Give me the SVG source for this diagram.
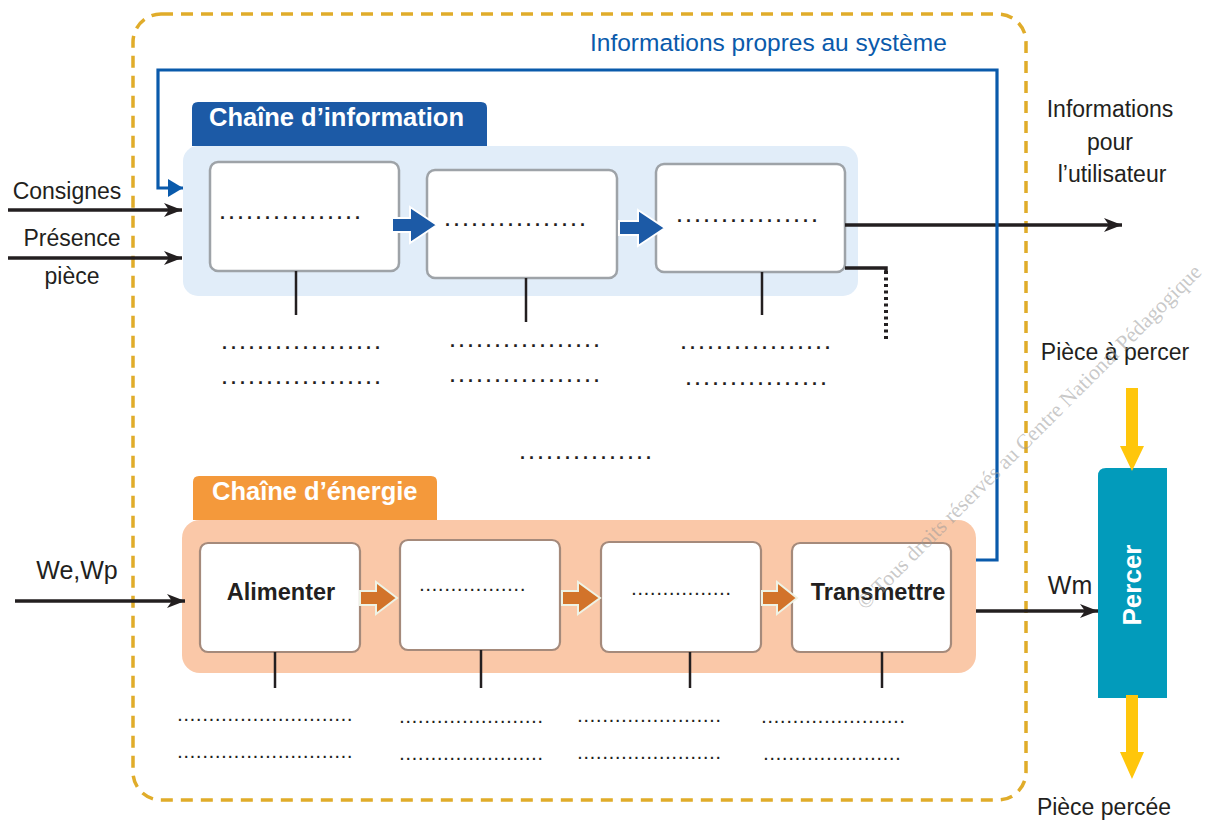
<svg xmlns="http://www.w3.org/2000/svg" width="1215" height="821" viewBox="0 0 1215 821">
  <style>
    .lbl { font-family: "Liberation Sans", Arial, sans-serif; font-size: 23px; fill: #231F20; }
    .big { font-size: 25px; }
    .tab { font-family: "Liberation Sans", Arial, sans-serif; font-size: 25.5px; font-weight: bold; fill: #FFFFFF; }
    .fn { font-family: "Liberation Sans", Arial, sans-serif; font-size: 23.5px; font-weight: bold; fill: #231F20; }
    .dots { font-family: "Liberation Sans", Arial, sans-serif; font-size: 18px; font-weight: bold; letter-spacing: 4px; fill: #231F20; }
    .dots-s { font-family: "Liberation Sans", Arial, sans-serif; font-size: 14px; font-weight: bold; letter-spacing: 2.4px; fill: #231F20; }
    .ibox { fill: #FFFFFF; stroke: #9EA3A8; stroke-width: 2.5; }
    .ebox { fill: #FFFFFF; stroke: #A58A7B; stroke-width: 2.2; }
    .wire { fill: none; stroke: #231F20; stroke-width: 3.5; }
    .tick { fill: none; stroke: #231F20; stroke-width: 2.5; }
    .barrow { fill: #1C5AA6; stroke: #FFFFFF; stroke-width: 2; }
    .oarrow { fill: #D2732A; stroke: #EEF3E6; stroke-width: 2; }
    .yarrow { fill: #FFC60B; }
  </style>
  <defs>
    <marker id="head" markerUnits="userSpaceOnUse" markerWidth="20" markerHeight="16" refX="18" refY="7" orient="auto">
      <path d="M0,0 L18,7 L0,14 L5,7 Z" fill="#231F20"/>
    </marker>
    <marker id="headBlue" markerUnits="userSpaceOnUse" markerWidth="16" markerHeight="20" refX="15" refY="9" orient="auto">
      <path d="M0,0 L15,9 L0,18 Z" fill="#0A5AAB"/>
    </marker>
  </defs>

  <rect width="1215" height="821" fill="#FFFFFF"/>

  <!-- system boundary -->
  <g id="system-boundary">
    <rect x="133" y="14" width="893" height="786" rx="28" ry="28" fill="none" stroke="#E0AC2A" stroke-width="3.5" stroke-dasharray="12 8"/>
    <text x="590" y="51" style="font-family: 'Liberation Sans', Arial, sans-serif; font-size: 24.5px; fill: #0A5AAB;">Informations propres au système</text>
  </g>

  <!-- information chain -->
  <g id="info-chain">
    <rect x="183" y="146" width="675" height="150" rx="15" ry="15" fill="#E1EDF9"/>
    <path d="M192,146 V108 Q192,102 198,102 H481 Q487,102 487,108 V146 Z" fill="#1C5AA6"/>
    <text class="tab" x="209" y="126">Chaîne d’information</text>
  </g>
  <g id="info-1">
    <rect class="ibox" x="210" y="162" width="189" height="109" rx="8" ry="8"/>
    <text class="dots" x="220" y="219">................</text>
  </g>
  <g id="info-2">
    <rect class="ibox" x="427" y="170" width="190" height="108" rx="8" ry="8"/>
    <text class="dots" x="445" y="226">................</text>
  </g>
  <g id="info-3">
    <rect class="ibox" x="656" y="164" width="189" height="108" rx="8" ry="8"/>
    <text class="dots" x="677" y="222">................</text>
  </g>

  <!-- energy chain -->
  <g id="energy-chain">
    <rect x="182" y="520" width="794" height="153" rx="18" ry="18" fill="#FAC8A8"/>
    <path d="M193,520 V482 Q193,476 199,476 H431 Q437,476 437,482 V520 Z" fill="#F4993B"/>
    <text class="tab" x="212" y="500">Chaîne d’énergie</text>
  </g>
  <g id="energy-1">
    <rect class="ebox" x="200" y="543" width="160" height="109" rx="8" ry="8"/>
    <text class="fn" x="281" y="600" text-anchor="middle">Alimenter</text>
  </g>
  <g id="energy-2">
    <rect class="ebox" x="400" y="540" width="160" height="110" rx="8" ry="8"/>
    <text class="dots-s" x="420" y="591">.................</text>
  </g>
  <g id="energy-3">
    <rect class="ebox" x="601" y="542" width="160" height="110" rx="8" ry="8"/>
    <text class="dots-s" x="632" y="595">................</text>
  </g>
  <g id="energy-4">
    <rect class="ebox" x="792" y="543" width="159" height="109" rx="8" ry="8"/>
    <text class="fn" x="878" y="600" text-anchor="middle">Transmettre</text>
  </g>

  <!-- operative part -->
  <g id="percer">
    <path d="M1106,468 H1167 V698 H1098 V476 Q1098,468 1106,468 Z" fill="#029BBB"/>
    <text class="tab" x="1132" y="585" text-anchor="middle" transform="rotate(-90 1132 585)" dy="9" style="font-size:26px">Percer</text>
  </g>

  <!-- external labels -->
  <g id="labels">
    <text class="lbl" x="67" y="199" text-anchor="middle">Consignes</text>
    <text class="lbl" x="72" y="246" text-anchor="middle">Présence</text>
    <text class="lbl" x="72" y="284" text-anchor="middle">pièce</text>
    <text class="lbl big" x="77" y="579" text-anchor="middle">We,Wp</text>
    <text class="lbl big" x="1070" y="594" text-anchor="middle">Wm</text>
    <text class="lbl" x="1110" y="117" text-anchor="middle">Informations</text>
    <text class="lbl" x="1110" y="150" text-anchor="middle">pour</text>
    <text class="lbl" x="1112" y="182" text-anchor="middle">l’utilisateur</text>
    <text class="lbl" x="1115" y="360" text-anchor="middle">Pièce à percer</text>
    <text class="lbl" x="1104" y="815" text-anchor="middle">Pièce percée</text>
  </g>

  <!-- blank answer lines -->
  <g id="blanks">
    <text class="dots" x="222" y="349">..................</text>
    <text class="dots" x="450" y="347">.................</text>
    <text class="dots" x="681" y="349">.................</text>
    <text class="dots" x="222" y="384">..................</text>
    <text class="dots" x="450" y="382">.................</text>
    <text class="dots" x="686" y="385">................</text>
    <text class="dots" x="520" y="459">...............</text>
    <text class="dots-s" x="178" y="721">............................</text>
    <text class="dots-s" x="400" y="723">.......................</text>
    <text class="dots-s" x="578" y="722">.......................</text>
    <text class="dots-s" x="762" y="723">.......................</text>
    <text class="dots-s" x="178" y="758">............................</text>
    <text class="dots-s" x="400" y="760">.......................</text>
    <text class="dots-s" x="578" y="759">.......................</text>
    <text class="dots-s" x="764" y="760">......................</text>
  </g>

  <!-- connectors -->
  <g id="connectors">
    <!-- inputs -->
    <line class="wire" x1="8" y1="210" x2="182" y2="210" marker-end="url(#head)"/>
    <line class="wire" x1="8" y1="258" x2="182" y2="258" marker-end="url(#head)"/>
    <line class="wire" x1="15" y1="601" x2="185" y2="601" marker-end="url(#head)"/>
    <!-- outputs -->
    <line class="wire" x1="845" y1="225" x2="1122" y2="225" marker-end="url(#head)"/>
    <line class="wire" x1="976" y1="611" x2="1098" y2="611" marker-end="url(#head)"/>
    <polyline class="wire" points="845,268 886,268 886,272"/>
    <line x1="886" y1="271" x2="886" y2="342" stroke="#231F20" stroke-width="4" stroke-dasharray="3 3.5"/>
    <!-- feedback from the energy chain to the information chain -->
    <polyline points="976,560 997,560 997,70 158,70 158,188 183,188" fill="none" stroke="#0A5AAB" stroke-width="3.2" marker-end="url(#headBlue)"/>
    <!-- information flow arrows -->
    <path class="barrow" d="M392,218 H410 V207 L437,225 L410,243 V232 H392 Z"/>
    <path class="barrow" d="M619,221 H638 V210 L665,228 L638,246 V235 H619 Z"/>
    <!-- energy flow arrows -->
    <path class="oarrow" d="M360,591 H376 V582 L397,598 L376,614 V605 H360 Z"/>
    <path class="oarrow" d="M562,591 H578 V582 L600,598 L578,614 V605 H562 Z"/>
    <path class="oarrow" d="M762,591 H777 V582 L797,598 L777,614 V605 H762 Z"/>
    <!-- ticks under functions -->
    <line class="tick" x1="296" y1="271" x2="296" y2="315"/>
    <line class="tick" x1="526" y1="278" x2="526" y2="322"/>
    <line class="tick" x1="762" y1="272" x2="762" y2="315"/>
    <line class="tick" x1="275" y1="652" x2="275" y2="688"/>
    <line class="tick" x1="481" y1="650" x2="481" y2="688"/>
    <line class="tick" x1="690" y1="652" x2="690" y2="688"/>
    <line class="tick" x1="882" y1="652" x2="882" y2="688"/>
    <!-- workpiece flow -->
    <path class="yarrow" d="M1126,388 H1138 V446 H1144 L1132,471 L1120,446 H1126 Z"/>
    <path class="yarrow" d="M1126,695 H1138 V752 H1144 L1132,779 L1120,752 H1126 Z"/>
  </g>

  <!-- copyright notice -->
  <text x="1034" y="442" text-anchor="middle" transform="rotate(-45 1034 442)" style="font-family: 'Liberation Serif', 'Times New Roman', serif; font-size: 21.5px; fill: #9A9A9A; fill-opacity: 0.55;">© Tous droits réservés au Centre National Pédagogique</text>
</svg>
